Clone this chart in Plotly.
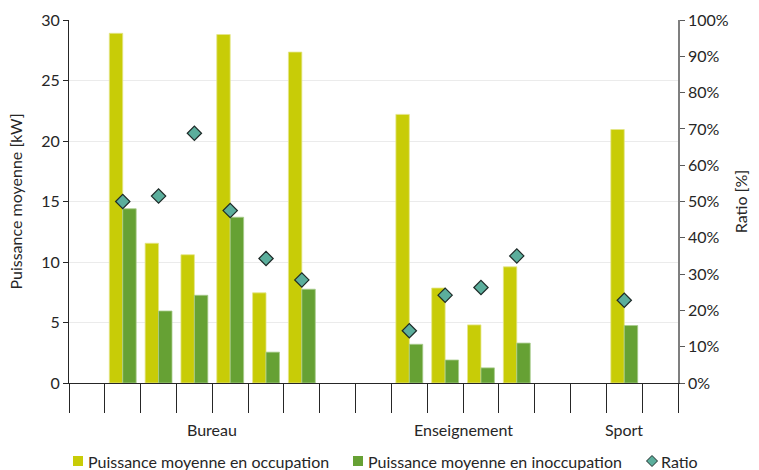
import plotly.graph_objects as go

# Category slots along the x axis (empty slots keep the spacing between groups)
groups = ["Bureau", "Enseignement", "Sport"]
group_slots = [8, 6, 3]

# Slot index of each building, with its values
slots = [1, 2, 3, 4, 5, 6, 9, 10, 11, 12, 15]
occupation = [28.9, 11.55, 10.6, 28.8, 7.45, 27.35, 22.2, 7.85, 4.8, 9.6, 20.95]
inoccupation = [14.4, 5.95, 7.25, 13.7, 2.55, 7.75, 3.2, 1.9, 1.25, 3.3, 4.75]
ratio = [50.0, 51.5, 68.8, 47.5, 34.3, 28.4, 14.4, 24.2, 26.3, 35.0, 22.8]

left_ticks = [0, 5, 10, 15, 20, 25, 30]
right_ticks = list(range(0, 101, 10))
right_labels = [f"{v}%" for v in right_ticks]

series_names = ["Puissance moyenne en occupation",
                "Puissance moyenne en inoccupation",
                "Ratio"]

FONT = "Lato"
FS = 16
TXT = "#262626"
YELLOW = "#C8CC07"
GREEN = "#66A134"
TEAL = "#5BAE9C"
EDGE = "#1E2A28"

W, H = 759, 470
M = dict(l=69, r=81, t=20, b=87)
PW, PH = W - M["l"] - M["r"], H - M["t"] - M["b"]


def px_x(px):
    """Page pixel column -> paper x."""
    return (px - M["l"]) / PW


def px_y(py):
    """Page pixel row -> paper y."""
    return (H - M["b"] - py) / PH


n_slots = sum(group_slots)
boundaries = [i - 0.5 for i in range(n_slots + 1)]
group_edges = [-0.5]
for g in group_slots:
    group_edges.append(group_edges[-1] + g)

fig = go.Figure()
fig.add_trace(go.Bar(
    x=slots, y=occupation, name=series_names[0],
    marker=dict(color=YELLOW, line=dict(color="#E4E68A", width=0.8)),
))
fig.add_trace(go.Bar(
    x=slots, y=inoccupation, name=series_names[1],
    marker=dict(color=GREEN, line=dict(color="#A8CB8C", width=0.8)),
))
fig.add_trace(go.Scatter(
    x=slots, y=ratio, name=series_names[2], mode="markers", yaxis="y2",
    marker=dict(symbol="diamond", size=11, color=TEAL,
                line=dict(color=EDGE, width=1.2)),
))

# Group labels below the axis
for i, g in enumerate(groups):
    mid = (group_edges[i] + group_edges[i + 1]) / 2
    fig.add_annotation(x=mid, y=px_y(429), xref="x", yref="paper", text=g,
                       xanchor="center", yanchor="middle", showarrow=False,
                       font=dict(family=FONT, size=FS, color=TXT))

# Legend row at the bottom of the page
LEG_Y = 461
legend_keys = [(73, YELLOW, "square"), (353, GREEN, "square"), (647, TEAL, "diamond")]
legend_text_x = [86, 366, 659]
for (kx, col, kind), tx, name in zip(legend_keys, legend_text_x, series_names):
    if kind == "square":
        fig.add_shape(type="rect", xref="paper", yref="paper",
                      x0=px_x(kx), x1=px_x(kx + 10),
                      y0=px_y(LEG_Y + 5), y1=px_y(LEG_Y - 5),
                      fillcolor=col, line=dict(width=0))
    else:
        cx = kx + 5
        path = (f"M {px_x(cx)} {px_y(LEG_Y - 5.5)} L {px_x(cx + 5.5)} {px_y(LEG_Y)} "
                f"L {px_x(cx)} {px_y(LEG_Y + 5.5)} L {px_x(cx - 5.5)} {px_y(LEG_Y)} Z")
        fig.add_shape(type="path", xref="paper", yref="paper", path=path,
                      fillcolor=col, line=dict(color=EDGE, width=1))
    fig.add_annotation(x=px_x(tx), y=px_y(LEG_Y), xref="paper", yref="paper",
                       xanchor="left", yanchor="middle", text=name, showarrow=False,
                       font=dict(family=FONT, size=FS, color=TXT))

fig.update_layout(
    width=W, height=H,
    margin=M,
    paper_bgcolor="white", plot_bgcolor="white",
    barmode="group", bargap=0.25, bargroupgap=0,
    font=dict(family=FONT, size=FS, color=TXT),
    showlegend=False,
    xaxis=dict(
        range=[-0.5, n_slots - 0.5], showgrid=False, zeroline=False, automargin=False,
        tickmode="array", tickvals=group_edges, ticktext=[""] * len(group_edges),
        ticks="outside", ticklen=57, tickcolor="#595959", tickwidth=1.2,
        minor=dict(tickmode="array", tickvals=boundaries, ticks="outside",
                   ticklen=29, tickcolor=TXT, tickwidth=1.2, showgrid=False),
        showline=True, linecolor=TXT, linewidth=1.2,
    ),
    yaxis=dict(
        range=[0, 30], tickvals=left_ticks, showgrid=True, gridcolor="#EBEBEB",
        gridwidth=1, zeroline=False, ticks="outside", ticklen=5, automargin=False,
        tickcolor=TXT, showline=True, linecolor=TXT, linewidth=1.2,
        title=dict(text="Puissance moyenne [kW]", standoff=14,
                   font=dict(family=FONT, size=FS, color=TXT)),
        tickfont=dict(family=FONT, size=FS, color=TXT),
    ),
    yaxis2=dict(
        range=[0, 100], tickmode="array", tickvals=right_ticks, ticktext=right_labels,
        overlaying="y", side="right", showgrid=False, zeroline=False, automargin=False,
        ticks="outside", ticklen=5, tickcolor="#595959",
        showline=True, linecolor="#7F7F7F", linewidth=1.5,
        title=dict(text="Ratio [%]", standoff=8,
                   font=dict(family=FONT, size=FS, color=TXT)),
        tickfont=dict(family=FONT, size=FS, color=TXT),
    ),
)

fig.write_html("out.html")
